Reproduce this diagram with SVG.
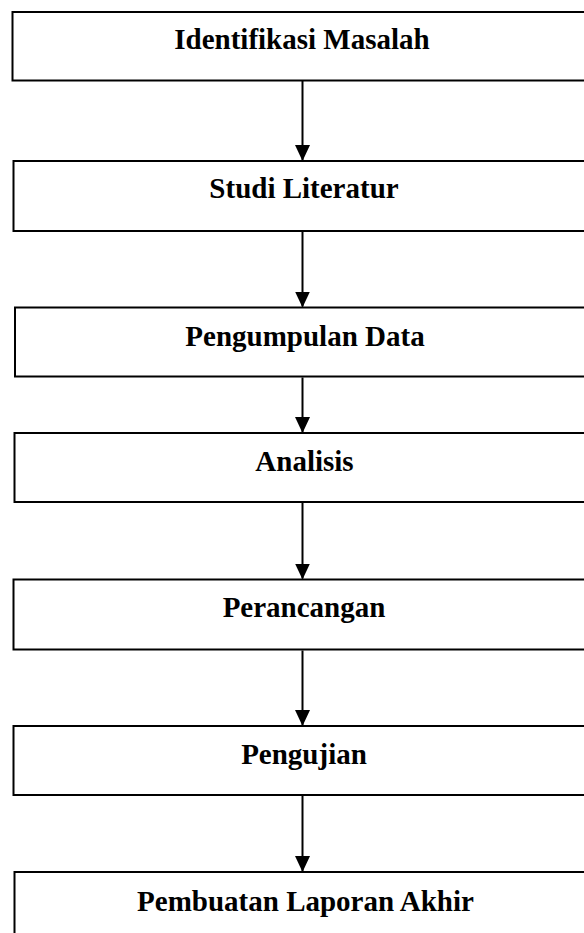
<svg xmlns="http://www.w3.org/2000/svg" width="584" height="933" viewBox="0 0 584 933">
<style>
.box{fill:#fff;stroke:#000;stroke-width:2}
.lbl{font-family:"Liberation Serif","Times New Roman",serif;font-weight:bold;font-size:29px;fill:#000;text-anchor:middle}
.conn{stroke:#000;stroke-width:2;fill:none}
</style>
<defs>
<marker id="ah" markerUnits="userSpaceOnUse" markerWidth="16" markerHeight="17" refX="15" refY="7.5" orient="auto">
<path d="M0,0 L16,7.5 L0,15 Z" fill="#000"/>
</marker>
</defs>
<rect width="584" height="933" fill="#fff"/>
<g id="n1"><rect class="box" x="12.5" y="12" width="590" height="68.5"/><text class="lbl" x="302" y="49">Identifikasi Masalah</text></g>
<g id="n2"><rect class="box" x="13.5" y="161" width="590" height="70"/><text class="lbl" x="304" y="197.5">Studi Literatur</text></g>
<g id="n3"><rect class="box" x="15" y="307.5" width="590" height="69"/><text class="lbl" x="305" y="345.5">Pengumpulan Data</text></g>
<g id="n4"><rect class="box" x="14.5" y="433" width="590" height="69"/><text class="lbl" x="304.5" y="470.5">Analisis</text></g>
<g id="n5"><rect class="box" x="13.5" y="579.5" width="590" height="70"/><text class="lbl" x="304" y="617">Perancangan</text></g>
<g id="n6"><rect class="box" x="13.5" y="726" width="590" height="69"/><text class="lbl" x="304" y="764">Pengujian</text></g>
<g id="n7"><rect class="box" x="14.5" y="872" width="590" height="80"/><text class="lbl" x="305.5" y="910.5">Pembuatan Laporan Akhir</text></g>
<g id="connectors">
<line class="conn" x1="302.5" y1="81" x2="302.5" y2="160" marker-end="url(#ah)"/>
<line class="conn" x1="302.5" y1="232" x2="302.5" y2="306.5" marker-end="url(#ah)"/>
<line class="conn" x1="302.5" y1="377.5" x2="302.5" y2="432" marker-end="url(#ah)"/>
<line class="conn" x1="302.5" y1="503" x2="302.5" y2="578.5" marker-end="url(#ah)"/>
<line class="conn" x1="302.5" y1="650.5" x2="302.5" y2="725" marker-end="url(#ah)"/>
<line class="conn" x1="302.5" y1="796" x2="302.5" y2="871" marker-end="url(#ah)"/>
</g>
</svg>
